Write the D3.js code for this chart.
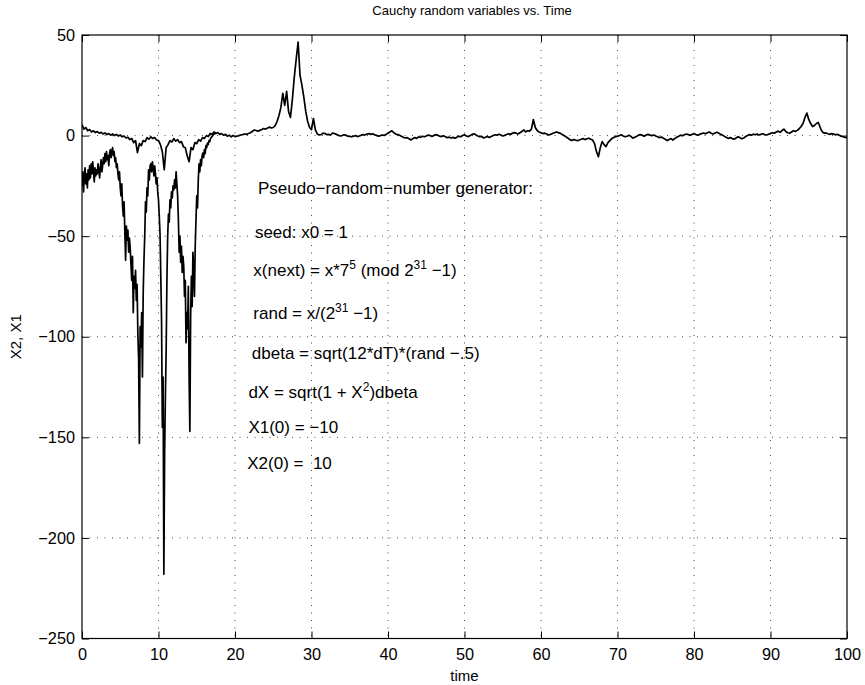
<!DOCTYPE html>
<html>
<head>
<meta charset="utf-8">
<script src="https://cdn.jsdelivr.net/npm/d3@7"></script>
<style>
	body { margin: 0; background: #fff; }
	text { font-family: "Liberation Sans", Arial, Helvetica, sans-serif; fill: #000; }
</style>
</head>
<body>
<div class="container"></div>
<script>
// sample spacing of the two series (time units)
var dT1 = 0.1;
var dT2 = 0.25;

var x1Values = [
	-25, -18, -28, -20, -16, -24, -19, -26, -17, -22,
	-15, -21, -14, -19, -13, -18, -23, -16, -20, -17,
	-19, -14, -17, -21, -16, -12, -18, -15, -11, -14,
	-9, -13, -8, -12, -10, -15, -9, -7, -11, -8,
	-6, -10, -8, -13, -11, -16, -14, -19, -22, -18,
	-26, -30, -24, -35, -40, -33, -48, -62, -45, -52,
	-47, -58, -51, -56, -64, -72, -60, -88, -70, -76,
	-67, -82, -74, -98, -111, -153, -95, -105, -88, -120,
	-78, -62, -50, -33, -38, -26, -30, -17, -22, -15,
	-14, -18, -13, -16, -20, -15, -19, -24, -21, -28,
	-32, -40, -49, -70, -92, -145, -120, -218, -158, -130,
	-107, -72, -50, -39, -43, -32, -36, -28, -31, -25,
	-27, -22, -26, -18, -24, -30, -42, -58, -50, -63,
	-55, -68, -60, -65, -80, -72, -103, -88, -96, -75,
	-120, -147, -90, -70, -85, -58, -66, -80, -55, -42,
	-30, -36, -22, -14, -18, -12, -15, -10, -8.7, -11,
	-7, -9, -5, -6, -3.7, -4.5, -2.5, -3, -1.5, -1,
	-0.5, 0, 0.6, 0.8, 1.2, 1.4
];

// X2, t = 0 .. 100
var x2Values = [
	5.5, 3.2, 4, 2.4, 3, 1.8, 2.4, 1.5, 2, 1.2, 1.6, 0.8, 1.3, 0.5, 1, 0.2, 0.8, 0, 0.6, -0.2,
	0.3, -0.6, -0.2, -1.2, -0.8, -2, -1.4, -3.5, -2.5, -8.5, -4, -5, -2.5, -3, -1, -1.8, -0.6, -1.5, -1, -2.2,
	-2.5, -4.5, -8, -17, -6, -4.5, -2.5, -3.2, -1.5, -2.8, -2, -3.5, -3, -5.5, -6, -10, -13, -6, -7, -3.5,
	-4, -2, -2.8, -1, -1.5, 0, -0.5, 1, 0.6, 1.8, 1, 1.5, 0.6, 1, 0.2, 0.6, -0.3, 0.2, -0.6, 0,
	-0.5, -0.3, 0, 0.3, 0.5, 0.8, 0.6, 1, 1.4, 2, 2.8, 2.5, 2.2, 2.6, 3, 3.5, 3.2, 3.8, 4.2, 3.8,
	4, 5, 7, 10, 14, 21, 15, 22, 12, 9, 18, 29, 38, 46.5, 30, 25, 19, 12, 7, 4,
	3, 8.5, 3, 0.8, 0.3, 0.5, 1.2, 1, 0.5, 0.6, 0.3, 1.3, 1, 0.6, 0.2, -0.2, 0, 0.4, 0.2, -0.3,
	-0.4, -0.6, -0.3, 0, -0.5, -0.2, 0.2, 0.5, 0.3, 0.8, 1, 0.6, 0.9, 0.4, 0.1, -0.3, 0, 0.3, 0.1, 0.6,
	1.2, 1.8, 2.4, 1.5, 0.8, 0.5, 0.2, -0.3, -0.8, -1.2, -1, -1.6, -2.2, -1.5, -1, -1.4, -0.6, -0.9, -0.3, -0.6,
	-0.2, 0.3, 0, -0.4, 0.1, 0.5, 0.2, -0.3, -0.5, -0.1, -0.6, -1, -0.8, -1.2, -0.9, -1.3, -0.8, -0.3, -0.6, 0,
	0.4, -0.2, -0.5, 0, 0.6, 0.9, 0.3, -0.2, -0.6, -0.4, -1.2, -0.8, -0.4, -0.9, -0.5, 0, 0.4, 0.2, 0.7, 0.3,
	-0.2, 0.1, 0.5, 0.9, 0.6, 1.1, 1.5, 1.2, 0.8, 1.4, 2, 2.8, 1.8, 2.4, 2.2, 3.2, 8, 4, 2.5, 1.8,
	1.4, 1, 1.2, 0.8, 0.3, 0.6, 1, 1.4, 1.8, 1.5, 1.2, 0.6, 0, -0.6, -1.2, -2, -2.5, -2, -2.2, -2.6,
	-2.2, -1.8, -1.5, -2, -1.6, -1.3, -1.8, -2.2, -4, -8, -10.5, -6, -3, -4.5, -5.5, -3.5, -2.5, -1.5, -1, -0.5,
	-0.3, 0, 0.4, -0.2, -0.6, -0.3, 0.2, -0.4, -1.3, -0.8, -0.4, 0.2, 0.5, 0.1, -0.3, 0.3, 0.6, 0.2, 0, 0.3,
	-0.2, -0.6, -1, -0.7, -1.3, -1.8, -2.5, -2, -1.5, -2.2, -1.4, -0.8, -0.3, 0.2, -0.1, 0.4, 0.8, 0.5, 0.2, 0.6,
	0.9, 0.5, 0.2, 0.6, 1, 1.3, 0.9, 1.4, 1.8, 1.2, 0.8, 1.3, 1.7, 1.2, 0.6, 0.2, -0.4, -0.9, -1.4, -1,
	-1.5, -1.8, -1.2, -0.6, -1, -1.6, -1.2, -0.5, 0, 0.5, 0.2, 0.7, 0.4, 0.8, 0.3, 0.6, 0.9, 0.5, 0.3, 0.7,
	1, 1.4, 1.2, 1.8, 2.2, 1.6, 2.5, 3.2, 2, 1.4, 1.2, 1.8, 2.4, 2, 2.6, 3.4, 4.5, 6, 9, 11.2,
	8, 6, 4.5, 5, 6, 6.5, 4, 2, 1.2, 1.3, 0.9, 0.6, 1, 0.7, 0.4, 0.6, 0.2, -0.3, -0.6, -0.9,
	-1
];

var xTicks = [0, 10, 20, 30, 40, 50, 60, 70, 80, 90, 100];
var yTicks = [-250, -200, -150, -100, -50, 0, 50];

// annotation text, positioned in data units; [text, isSuperscript]
var notes = [
	{ t: 23.0, v: -26.2, parts: [["Pseudo\u2212random\u2212number generator:"]] },
	{ t: 22.6, v: -47.8, parts: [["seed: x0 = 1"]] },
	{ t: 22.4, v: -66.8, parts: [["x(next) = x*7"], ["5", 1], [" (mod 2"], ["31", 1], [" \u22121)"]] },
	{ t: 22.4, v: -88.3, parts: [["rand = x/(2"], ["31", 1], [" \u22121)"]] },
	{ t: 22.2, v: -108.2, parts: [["dbeta = sqrt(12*dT)*(rand \u2212.5)"]] },
	{ t: 21.75, v: -127.3, parts: [["dX = sqrt(1 + X"], ["2", 1], [")dbeta"]] },
	{ t: 21.75, v: -144.7, parts: [["X1(0) = \u221210"]] },
	{ t: 21.6, v: -162.9, parts: [["X2(0) = \u00a010"]] }
];

var charter = function () {
	var width = 865, height = 685;
	var margin = { left: 82, right: 18, top: 35, bottom: 46.5 };
	var w = width - margin.left - margin.right;
	var h = height - margin.top - margin.bottom;

	var init = function () {
		var paper = d3.select('.container').append('svg')
			.attr('width', width)
			.attr('height', height);

		paper.append('rect')
			.attr('width', width)
			.attr('height', height)
			.attr('fill', '#fff');

		var x = d3.scaleLinear().domain([0, 100]).range([0, w]);
		var y = d3.scaleLinear().domain([-250, 50]).range([h, 0]);

		var g = paper.append('g')
			.attr('transform', 'translate(' + margin.left + ',' + margin.top + ')');

		// dotted grid
		g.selectAll('.gx')
			.data(xTicks.slice(1, -1))
			.enter().append('line')
			.attr('x1', function (d) { return x(d); })
			.attr('x2', function (d) { return x(d); })
			.attr('y1', 0)
			.attr('y2', h)
			.attr('stroke', '#444')
			.attr('stroke-dasharray', '1,6.5');

		g.selectAll('.gy')
			.data(yTicks.slice(1, -1))
			.enter().append('line')
			.attr('y1', function (d) { return y(d); })
			.attr('y2', function (d) { return y(d); })
			.attr('x1', 0)
			.attr('x2', w)
			.attr('stroke', '#444')
			.attr('stroke-dasharray', '1,6.5');

		// axes, ticks pointing inward
		g.append('g')
			.attr('transform', 'translate(0,' + h + ')')
			.call(d3.axisBottom(x).tickValues(xTicks).tickSizeInner(-7).tickSizeOuter(0).tickPadding(10));
		g.append('g')
			.call(d3.axisLeft(y).tickValues(yTicks).tickSizeInner(-7).tickSizeOuter(0).tickPadding(7));
		g.append('g')
			.call(d3.axisTop(x).tickValues(xTicks).tickSizeInner(-7).tickSizeOuter(0).tickFormat(''));
		g.append('g')
			.attr('transform', 'translate(' + w + ',0)')
			.call(d3.axisRight(y).tickValues(yTicks).tickSizeInner(-7).tickSizeOuter(0).tickFormat(''));

		g.selectAll('.domain').remove();
		g.selectAll('.tick line').attr('stroke', '#000');
		g.selectAll('.tick text')
			.style('font-family', '"Liberation Sans", Arial, sans-serif')
			.style('font-size', '16.3px')
			.attr('fill', '#000');

		// series
		paper.append('clipPath').attr('id', 'plotclip')
			.append('rect').attr('width', w).attr('height', h);

		var line1 = d3.line()
			.x(function (d, i) { return x(i * dT1); })
			.y(function (d) { return y(d); });
		var line2 = d3.line()
			.x(function (d, i) { return x(i * dT2); })
			.y(function (d) { return y(d); });

		var plot = g.append('g').attr('clip-path', 'url(#plotclip)');
		plot.append('path')
			.attr('d', line1(x1Values))
			.attr('fill', 'none')
			.attr('stroke', '#000')
			.attr('stroke-width', 1.7)
			.attr('stroke-linejoin', 'round');
		plot.append('path')
			.attr('d', line2(x2Values))
			.attr('fill', 'none')
			.attr('stroke', '#000')
			.attr('stroke-width', 1.7)
			.attr('stroke-linejoin', 'round');

		// box
		g.append('rect')
			.attr('width', w)
			.attr('height', h)
			.attr('fill', 'none')
			.attr('stroke', '#000')
			.attr('stroke-width', 1.2);

		// annotations
		var noteText = g.selectAll('.note')
			.data(notes)
			.enter().append('text')
			.attr('x', function (d) { return x(d.t); })
			.attr('y', function (d) { return y(d.v); })
			.attr('dy', '0.35em')
			.style('font-size', '17px')
			.style('white-space', 'pre');

		noteText.each(function (d) {
			var el = d3.select(this);
			var up = false;
			d.parts.forEach(function (p) {
				var sup = !!p[1];
				var ts = el.append('tspan').text(p[0]);
				if (sup && !up) ts.attr('dy', -7);
				if (!sup && up) ts.attr('dy', 7);
				if (sup) ts.style('font-size', '12px');
				up = sup;
			});
		});

		// titles
		paper.append('text')
			.attr('x', 472)
			.attr('y', 15)
			.attr('text-anchor', 'middle')
			.style('font-size', '13px')
			.text('Cauchy random variables vs. Time');

		paper.append('text')
			.attr('x', margin.left + w / 2)
			.attr('y', 681)
			.attr('text-anchor', 'middle')
			.style('font-size', '15px')
			.text('time');

		paper.append('text')
			.attr('transform', 'translate(21,' + (margin.top + h / 2) + ') rotate(-90)')
			.attr('text-anchor', 'middle')
			.style('font-size', '15px')
			.text('X2, X1');
	};

	return Object.freeze({ init: init });
};

var c = charter();
c.init();
</script>
</body>
</html>
